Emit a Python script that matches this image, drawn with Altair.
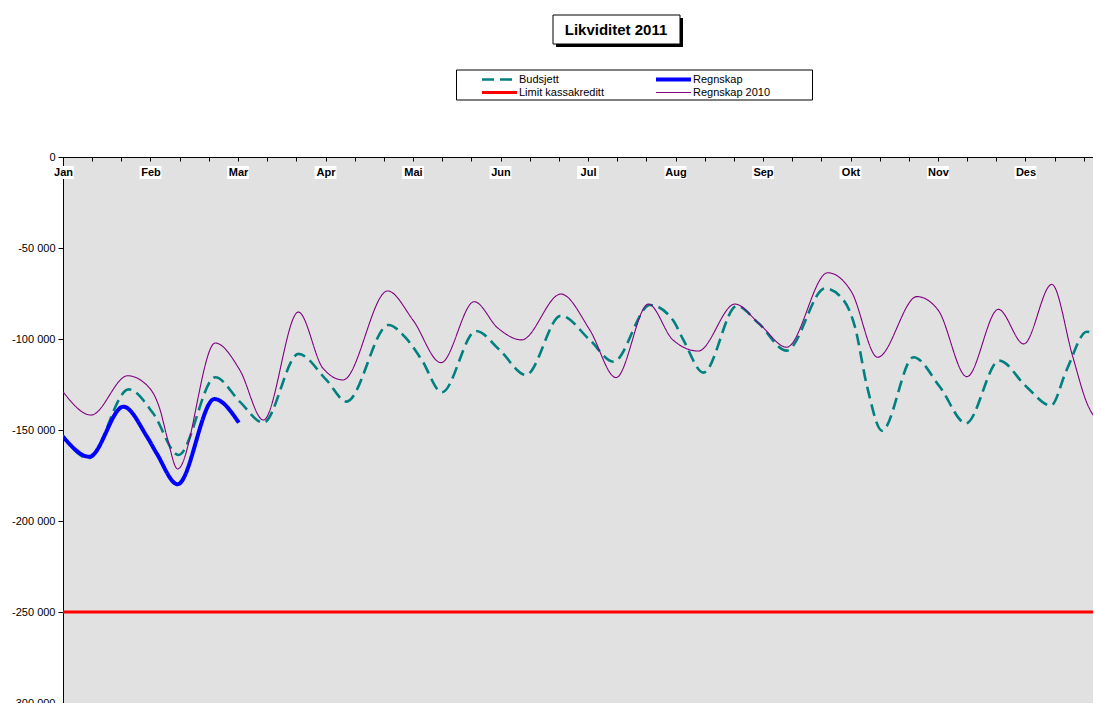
import altair as alt
import pandas as pd

title_text = "Likviditet 2011"
months = ["Jan", "Feb", "Mar", "Apr", "Mai", "Jun", "Jul", "Aug", "Sep", "Okt", "Nov", "Des"]
series_names = ["Budsjett", "Regnskap", "Limit kassakreditt", "Regnskap 2010"]
series_colors = ["#008080", "#0000ff", "#ff0000", "#800080"]
series_dashes = [[12, 6], [1, 0], [1, 0], [1, 0]]
series_widths = [2.6, 4, 3, 1.1]

# x in months from 1 Jan (0 = Jan, 1 = Feb, ...), y in NOK
budsjett_x = [0.00, 0.29, 0.75, 1.03, 1.32, 1.74, 2.02, 2.29, 2.69, 3.01, 3.24, 3.72, 3.91, 4.10,
              4.33, 4.72, 4.99, 5.29, 5.69, 6.02, 6.29, 6.71, 6.97, 7.09, 7.32, 7.70, 7.95, 8.27,
              8.71, 8.92, 9.05, 9.19, 9.36, 9.72, 10.02, 10.32, 10.70, 11.01, 11.29, 11.47, 11.70, 11.86]
budsjett_y = [-153000, -165600, -127700, -140800, -163700, -121000, -134400, -146000, -108200,
              -122500, -134400, -92300, -99000, -111500, -129300, -95600, -106000, -119800, -87200,
              -100500, -112500, -81300, -89600, -100500, -118500, -81900, -91400, -106400, -72200,
              -78600, -93200, -126200, -150400, -110000, -126200, -146300, -111900, -126200, -136600,
              -117000, -96000, -99600]

regnskap_x = [0.00, 0.30, 0.69, 0.96, 1.07, 1.31, 1.73, 2.01]
regnskap_y = [-153700, -164700, -137200, -153700, -162800, -179800, -133000, -146000]

limit_x = [0.00, 12.00]
limit_y = [-250000, -250000]

regnskap2010_x = [0.00, 0.32, 0.74, 0.99, 1.11, 1.19, 1.31, 1.74, 2.02, 2.29, 2.69, 2.97, 3.20,
                  3.71, 4.00, 4.32, 4.70, 4.97, 5.24, 5.69, 6.02, 6.32, 6.69, 6.97, 7.26, 7.68,
                  7.97, 8.27, 8.74, 9.01, 9.31, 9.76, 10.00, 10.33, 10.69, 10.98, 11.30, 11.54,
                  11.70, 11.86]
regnskap2010_y = [-129000, -141800, -120200, -127000, -139000, -154000, -171400, -102200, -117000,
                  -144500, -85200, -116000, -122500, -73600, -89600, -113000, -79500, -94000,
                  -100500, -75300, -95000, -121200, -80800, -100500, -106600, -80800, -92300,
                  -104500, -63600, -74000, -110000, -76700, -84000, -120700, -83700, -102700,
                  -70000, -109700, -135000, -147000]

y_ticks = [0, -50000, -100000, -150000, -200000, -250000, -300000]

rows = []
for name, xs, ys in [
    ("Budsjett", budsjett_x, budsjett_y),
    ("Regnskap", regnskap_x, regnskap_y),
    ("Limit kassakreditt", limit_x, limit_y),
    ("Regnskap 2010", regnskap2010_x, regnskap2010_y),
]:
    for i, (xv, yv) in enumerate(zip(xs, ys)):
        rows.append({"serie": name, "m": xv, "v": yv, "i": i})
df = pd.DataFrame(rows)

FONT = "Arial, Liberation Sans, sans-serif"
W, H = 1030, 546
MONTH_PX = 87.5
x_max = W / MONTH_PX

month_js = "[" + ",".join("'" + m + "'" for m in months) + "]"
x_label_expr = f"abs(datum.value - round(datum.value)) < 0.01 ? {month_js}[round(datum.value)] : ''"
y_label_expr = "replace(replace(format(datum.value, ','), ',', ' '), '\u2212', '-')"


def make_legend():
    return alt.Legend(orient="none", legendX=417, legendY=-84, columns=2, direction="horizontal",
                      symbolType="stroke", symbolSize=1225, title=None, clipHeight=13,
                      labelFont=FONT, labelFontSize=11, labelColor="black",
                      labelOffset=0, columnPadding=50, rowPadding=0, padding=0)


def make_x_axis():
    return alt.Axis(orient="bottom", offset=-H, values=[k / 3 for k in range(36)],
                    labelExpr=x_label_expr, title=None, grid=False, labelFlush=False,
                    tickSize=4, labelPadding=5, labelFontWeight="bold", zindex=1,
                    labelFontSize=11, labelFont=FONT, labelColor="black",
                    domainColor="black", tickColor="black", labelBaseline="top")


x_scale = alt.Scale(domain=[0, x_max], nice=False, zero=False)

lines = alt.Chart(df).mark_line(interpolate="monotone", clip=True).encode(
    x=alt.X("m:Q", scale=x_scale, axis=make_x_axis()),
    y=alt.Y("v:Q", scale=alt.Scale(domain=[-300000, 0], nice=False),
            axis=alt.Axis(values=y_ticks, labelExpr=y_label_expr, title=None, grid=False,
                          tickSize=5, labelPadding=3, labelFontSize=11, labelFont=FONT,
                          labelColor="black", domainColor="black", tickColor="black")),
    color=alt.Color("serie:N", scale=alt.Scale(domain=series_names, range=series_colors),
                    legend=make_legend()),
    strokeDash=alt.StrokeDash("serie:N", scale=alt.Scale(domain=series_names, range=series_dashes),
                              legend=make_legend()),
    strokeWidth=alt.StrokeWidth("serie:N", scale=alt.Scale(type="ordinal", domain=series_names,
                                                           range=series_widths),
                                legend=make_legend()),
    order="i:Q",
    detail="serie:N",
)

# white backgrounds behind the month labels
month_df = pd.DataFrame({"month": months, "idx": list(range(len(months)))})
label_bg = alt.Chart(month_df).transform_calculate(
    m0="datum.idx - 0.125", m1="datum.idx + 0.125"
).mark_rect(fill="white").encode(
    x=alt.X("m0:Q", scale=x_scale, axis=make_x_axis()),
    x2="m1:Q",
    y=alt.value(9), y2=alt.value(22),
)

one = pd.DataFrame({"t": [title_text]})
title_shadow = alt.Chart(one).mark_rect(fill="black").encode(
    x=alt.value(493), x2=alt.value(620), y=alt.value(-139), y2=alt.value(-110))
title_box = alt.Chart(one).mark_rect(fill="white", stroke="black", strokeWidth=1).encode(
    x=alt.value(490), x2=alt.value(617), y=alt.value(-142), y2=alt.value(-113))
title_txt = alt.Chart(one).mark_text(font=FONT, fontSize=15, fontWeight="bold", color="black",
                                     align="center", baseline="middle").encode(
    x=alt.value(553), y=alt.value(-127.5), text="t:N")
legend_box = alt.Chart(one).mark_rect(fill="white", stroke="black", strokeWidth=1).encode(
    x=alt.value(393.5), x2=alt.value(749.5), y=alt.value(-87), y2=alt.value(-57))

chart = alt.layer(title_shadow, title_box, title_txt, legend_box, label_bg, lines).properties(
    width=W, height=H,
    autosize=alt.AutoSizeParams(type="none"),
    padding={"left": 55, "top": 149, "right": 0, "bottom": 0},
    background="white",
).configure_view(fill="#e1e1e1", stroke="#909090", strokeWidth=1)

chart.save("out.html", embed_options={"renderer": "svg", "actions": False})
